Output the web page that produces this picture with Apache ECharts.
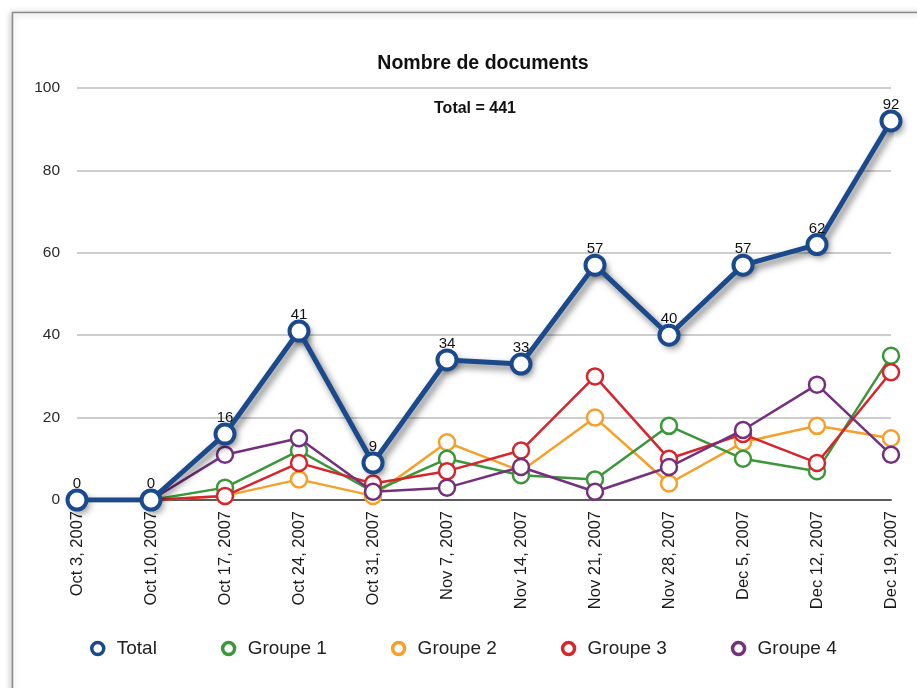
<!DOCTYPE html>
<html>
<head>
<meta charset="utf-8">
<title>Nombre de documents</title>
<script src="https://cdn.jsdelivr.net/npm/echarts@6/dist/echarts.min.js"></script>
<style>
  html, body { margin: 0; padding: 0; background: #ffffff; }
  #chart { width: 917px; height: 688px; }
</style>
</head>
<body>
<div id="chart"></div>
<script>
// Weekly document counts, October – December 2007
const weeks = ['Oct 3, 2007', 'Oct 10, 2007', 'Oct 17, 2007', 'Oct 24, 2007', 'Oct 31, 2007',
  'Nov 7, 2007', 'Nov 14, 2007', 'Nov 21, 2007', 'Nov 28, 2007', 'Dec 5, 2007',
  'Dec 12, 2007', 'Dec 19, 2007'];
const total   = [0, 0, 16, 41, 9, 34, 33, 57, 40, 57, 62, 92];
const groupe1 = [0, 0, 3, 12, 2, 10, 6, 5, 18, 10, 7, 35];
const groupe2 = [0, 0, 1, 5, 1, 14, 7, 20, 4, 14, 18, 15];
const groupe3 = [0, 0, 1, 9, 4, 7, 12, 30, 10, 16, 9, 31];
const groupe4 = [0, 0, 11, 15, 2, 3, 8, 2, 8, 17, 28, 11];
const yTicks = [0, 20, 40, 60, 80, 100];

const grandTotal = total.reduce((a, b) => a + b, 0);

const FONT = 'Liberation Sans, Arial, Helvetica, sans-serif';
const TOTAL_BLUE = '#1b4a8c';
const DROP = { shadowColor: 'rgba(0,0,0,0.55)', shadowBlur: 7, shadowOffsetX: 3, shadowOffsetY: 4 };

function groupSeries(name, color, values, z) {
  return {
    name: name,
    type: 'line',
    data: values,
    z: z,
    symbol: 'circle',
    symbolSize: 16,
    lineStyle: { color: color, width: 2.5 },
    itemStyle: { color: '#ffffff', borderColor: color, borderWidth: 2.5 },
    emphasis: { disabled: true }
  };
}

const chart = echarts.init(document.getElementById('chart'), null, { renderer: 'canvas' });

chart.setOption({
  animation: false,
  backgroundColor: '#ffffff',
  textStyle: { fontFamily: FONT },
  graphic: [{
    type: 'rect',
    z: -10,
    silent: true,
    shape: { x: 12.5, y: 12.5, width: 940, height: 720 },
    style: {
      fill: '#ffffff',
      stroke: '#8c8c8c',
      lineWidth: 1.5,
      shadowColor: 'rgba(0,0,0,0.25)',
      shadowBlur: 6,
      shadowOffsetX: -1,
      shadowOffsetY: 1
    }
  }],
  title: [{
    text: 'Nombre de documents',
    left: 478,
    top: 49,
    textAlign: 'center',
    textStyle: { fontFamily: FONT, fontSize: 19.5, fontWeight: 'bold', color: '#111111' }
  }, {
    text: 'Total = ' + grandTotal,
    left: 470,
    top: 96,
    textAlign: 'center',
    textStyle: { fontFamily: FONT, fontSize: 16, fontWeight: 'bold', color: '#111111' }
  }],
  legend: {
    data: ['Total', 'Groupe 1', 'Groupe 2', 'Groupe 3', 'Groupe 4'],
    left: 85,
    top: 634,
    itemGap: 64,
    itemWidth: 12,
    itemHeight: 12,
    icon: 'circle',
    itemStyle: { color: '#ffffff', borderColor: 'inherit', borderWidth: 3.5 },
    textStyle: { fontFamily: FONT, fontSize: 19, color: '#222222', padding: [0, 0, 0, 8] }
  },
  grid: { left: 77, right: 26, top: 88, bottom: 188, containLabel: false },
  xAxis: {
    type: 'category',
    data: weeks,
    boundaryGap: false,
    axisLine: { lineStyle: { color: '#5a5a5a', width: 2 } },
    axisTick: { show: false },
    axisLabel: {
      rotate: 90,
      margin: 11,
      interval: 0,
      fontFamily: FONT,
      fontSize: 16.5,
      color: '#1a1a1a'
    },
    splitLine: { show: false }
  },
  yAxis: {
    type: 'value',
    min: yTicks[0],
    max: yTicks[yTicks.length - 1],
    interval: yTicks[1] - yTicks[0],
    axisLine: { show: false },
    axisTick: { show: false },
    axisLabel: { margin: 17, fontFamily: FONT, fontSize: 15.5, color: '#2a2a2a' },
    splitLine: { lineStyle: { color: '#bdbdbd', width: 1.5 } }
  },
  series: [
    groupSeries('Groupe 1', '#3b973a', groupe1, 3),
    groupSeries('Groupe 2', '#f5a02a', groupe2, 2),
    groupSeries('Groupe 3', '#d5262e', groupe3, 4),
    groupSeries('Groupe 4', '#74307c', groupe4, 5),
    {
      // solid discs under the Total markers, only there to cast their drop shadow
      name: 'Total ombre',
      type: 'scatter',
      data: total,
      z: 8,
      symbol: 'circle',
      symbolSize: 19,
      silent: true,
      itemStyle: Object.assign({ color: TOTAL_BLUE }, DROP)
    },
    {
      name: 'Total',
      type: 'line',
      data: total,
      z: 10,
      symbol: 'circle',
      symbolSize: 19,
      lineStyle: Object.assign({ color: TOTAL_BLUE, width: 5 }, DROP),
      itemStyle: { color: '#ffffff', borderColor: TOTAL_BLUE, borderWidth: 4 },
      label: {
        show: true,
        position: 'top',
        distance: -3,
        fontFamily: FONT,
        fontSize: 15,
        color: '#111111'
      },
      emphasis: { disabled: true }
    }
  ]
});
</script>
</body>
</html>
